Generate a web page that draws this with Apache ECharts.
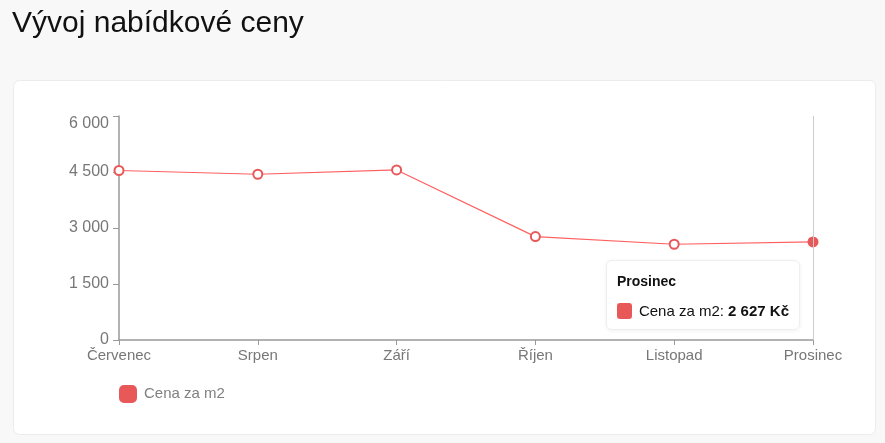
<!DOCTYPE html>
<html>
<head>
<meta charset="utf-8">
<script src="https://cdn.jsdelivr.net/npm/echarts@6/dist/echarts.min.js"></script>
<style>
html,body{margin:0;padding:0;background:#f8f8f8;}
#c{width:885px;height:443px;}
</style>
</head>
<body>
<div id="c"></div>
<script>
const titleText = 'Vývoj nabídkové ceny';
const seriesName = 'Cena za m2';
const categories = ['Červenec', 'Srpen', 'Září', 'Říjen', 'Listopad', 'Prosinec'];
const values = [4540, 4440, 4555, 2770, 2565, 2627];
const yTicks = [0, 1500, 3000, 4500, 6000];
const unit = 'Kč';

const RED = '#e85858';
function fmt(n){ return String(Math.round(n)).replace(/\B(?=(\d{3})+(?!\d))/g, ' '); }

const chart = echarts.init(document.getElementById('c'), null, {renderer:'canvas'});
chart.setOption({
  animation:false,
  backgroundColor:'#f8f8f8',
  textStyle:{fontFamily:'Liberation Sans, Arial, sans-serif'},
  title:{
    text:titleText, left:7, top:4,
    textStyle:{fontSize:30, fontWeight:'normal', color:'#111', fontFamily:'Liberation Sans, Arial, sans-serif'}
  },
  graphic:[{
    type:'rect', left:13, top:80, z:-10,
    shape:{width:862, height:354, r:6},
    style:{fill:'#fff', stroke:'#ececec', lineWidth:1}
  }],
  grid:{left:119, right:72, top:116, bottom:103, containLabel:false},
  tooltip:{
    trigger:'axis',
    position:function(){ return [606, 260]; },
    backgroundColor:'#fff',
    borderColor:'#eee',
    borderWidth:1,
    padding:[11,10,10,10],
    extraCssText:'border-radius:6px;box-shadow:0 1px 4px rgba(0,0,0,0.06);',
    axisPointer:{type:'line', lineStyle:{color:'#ccc', width:1, type:'solid'}},
    formatter:function(p){
      const d=p[0];
      return '<div style="font-family:Liberation Sans,Arial,sans-serif;color:#111;width:172px">'+
        '<div style="font-weight:bold;font-size:14px;line-height:18px;margin:0 0 13px 0">'+d.name+'</div>'+
        '<div style="font-size:15px;line-height:16px;height:16px;display:flex;align-items:center">'+
        '<span style="display:inline-block;width:16px;height:16px;border-radius:3px;background:'+RED+';margin-right:7px"></span>'+
        d.seriesName+':&nbsp;<b>'+fmt(d.value)+' '+unit+'</b></div></div>';
    }
  },
  legend:{
    left:119, top:385, padding:0, icon:'roundRect', itemWidth:16, itemHeight:16, itemGap:10,
    textStyle:{color:'#808080', fontSize:15, padding:[0,0,0,3]},
    data:[seriesName]
  },
  xAxis:{
    type:'category', data:categories, boundaryGap:false,
    axisLine:{lineStyle:{color:'#999', width:1.5}},
    axisTick:{show:true, alignWithLabel:true, length:5, lineStyle:{color:'#999'}},
    axisLabel:{color:'#777', fontSize:15, margin:8}
  },
  yAxis:{
    type:'value', min:0, max:6000, interval:1500,
    axisLine:{show:true, lineStyle:{color:'#999', width:1.5}},
    axisTick:{show:true, length:6, lineStyle:{color:'#999'}},
    splitLine:{show:false},
    axisLabel:{color:'#777', fontSize:16, margin:10, verticalAlignMaxLabel:'top',
      formatter:function(v){ return yTicks.indexOf(v)>=0 ? fmt(v) : ''; }}
  },
  series:[{
    name:seriesName, type:'line', data:values,
    symbol:'emptyCircle', symbolSize:9, showSymbol:true,
    lineStyle:{color:RED, width:1.2},
    itemStyle:{color:RED, borderColor:RED, borderWidth:1.2},
    emphasis:{scale:false, itemStyle:{color:RED, borderColor:RED}}
  }],
  color:[RED]
});
chart.dispatchAction({type:'showTip', seriesIndex:0, dataIndex:5});
chart.dispatchAction({type:'highlight', seriesIndex:0, dataIndex:5});
</script>
</body>
</html>
